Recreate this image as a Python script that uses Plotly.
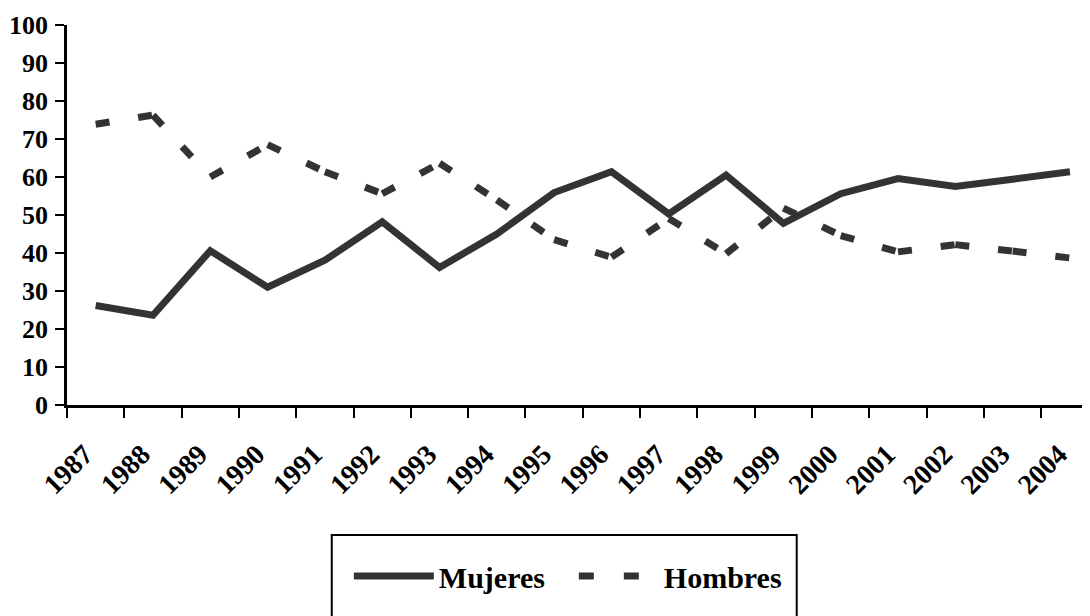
import plotly.graph_objects as go

years = ["1987", "1988", "1989", "1990", "1991", "1992", "1993", "1994", "1995",
         "1996", "1997", "1998", "1999", "2000", "2001", "2002", "2003", "2004"]
mujeres = [26.2, 23.6, 40.6, 31.0, 38.1, 48.2, 36.2, 45.0, 55.9,
           61.4, 50.3, 60.5, 47.8, 55.6, 59.6, 57.5, 59.4, 61.4]
hombres = [73.9, 76.3, 60.0, 68.5, 61.4, 55.6, 63.6, 54.0, 43.5,
           38.9, 49.1, 39.8, 51.8, 44.6, 40.3, 42.2, 40.5, 38.7]
y_ticks = [0, 10, 20, 30, 40, 50, 60, 70, 80, 90, 100]

LINE_COLOR = "#333333"
FONT = "Liberation Serif, Times New Roman, serif"

fig = go.Figure()

fig.add_trace(go.Scatter(
    x=years, y=mujeres, mode="lines", name="Mujeres",
    line=dict(color=LINE_COLOR, width=7),
))

# Hombres: dashed; pattern restarts on every segment (as the original renderer does)
for i in range(len(years) - 1):
    fig.add_trace(go.Scatter(
        x=years[i:i + 2], y=hombres[i:i + 2], mode="lines",
        line=dict(color=LINE_COLOR, width=7, dash="14px,29px"),
        legendgroup="hombres", showlegend=False, hoverinfo="skip",
    ))
# legend entry for Hombres
fig.add_trace(go.Scatter(
    x=[None], y=[None], mode="lines", name="Hombres", legendgroup="hombres",
    line=dict(color=LINE_COLOR, width=7, dash="15px,30px,15px,100px"),
))

# the page adds an 8px body margin, so the figure is sized/offset to compensate
fig.update_layout(
    width=1082, height=608,
    margin=dict(l=59, r=0, t=17, b=211),
    paper_bgcolor="white", plot_bgcolor="white",
    font=dict(family=FONT, size=26, color="black", weight="bold"),
    showlegend=True,
    legend=dict(
        orientation="h", x=0.2755, xanchor="left", y=-0.3816, yanchor="top",
        font=dict(family=FONT, size=30, color="black", weight="bold"),
        bgcolor="rgba(0,0,0,0)", borderwidth=0, itemwidth=80,
        entrywidth=130,
    ),
    shapes=[dict(
        type="rect", xref="paper", yref="paper",
        x0=0.2588, x1=0.7133, y0=-0.342, y1=-0.60,
        line=dict(color="black", width=2), fillcolor="rgba(0,0,0,0)",
    )],
)

fig.update_xaxes(
    type="category", categoryorder="array", categoryarray=years,
    range=[-0.5, 17.35], tickson="boundaries", automargin=False,
    ticks="outside", ticklen=10, tickwidth=2, tickcolor="black",
    showline=True, linecolor="black", linewidth=2.5,
    showgrid=False, zeroline=False, tickangle=-45,
    ticklabelstandoff=19, ticklabelshift=-11,
    tickfont=dict(family=FONT, size=28, color="black", weight="bold"),
)
fig.update_yaxes(
    range=[0, 100], tickvals=y_ticks, automargin=False,
    ticks="outside", ticklen=9, tickwidth=2, tickcolor="black",
    showline=True, linecolor="black", linewidth=2.5,
    showgrid=False, zeroline=False, ticklabelstandoff=2,
    tickfont=dict(family=FONT, size=26, color="black", weight="bold"),
)

fig.write_html("out.html")
